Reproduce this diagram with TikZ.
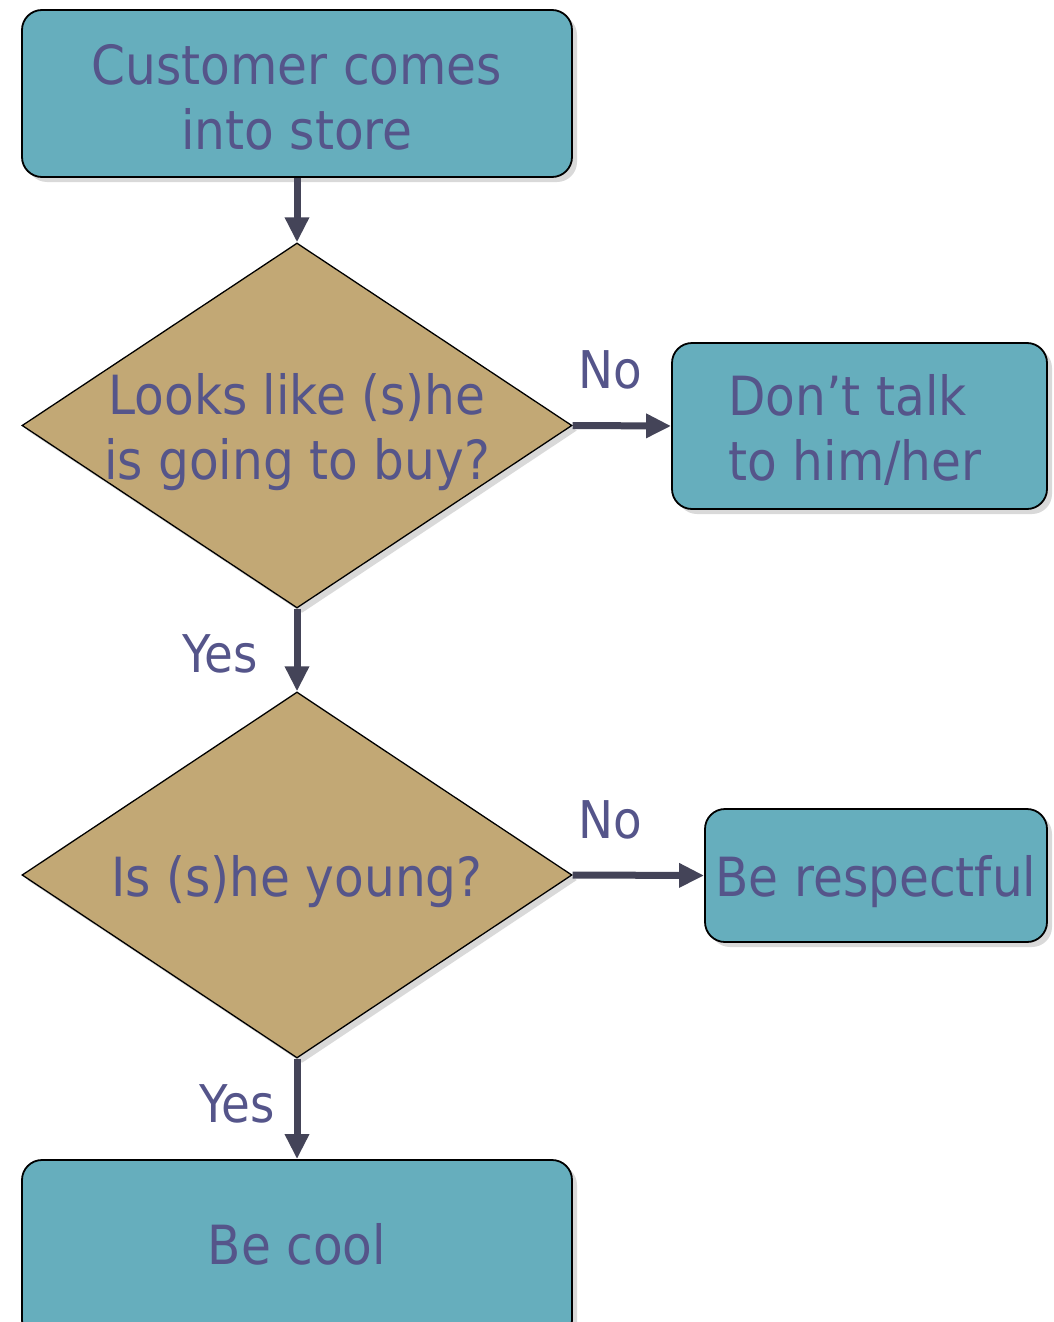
\documentclass[tikz,border=0pt]{standalone}
\usepackage{fontspec}
\setmainfont{DejaVu Sans}[FakeStretch=0.9]
\usetikzlibrary{shapes.geometric,shadows,arrows.meta}
\definecolor{boxfill}{HTML}{66AEBD}
\definecolor{decfill}{HTML}{C2A875}
\definecolor{txtcol}{HTML}{55558A}
\definecolor{arrcol}{HTML}{444458}
\tikzset{
  procbox/.style={rectangle, rounded corners=20pt, draw=black, line width=1.8pt, fill=boxfill,
    drop shadow={shadow xshift=5pt, shadow yshift=-5pt, fill=black!15, opacity=1},
    inner sep=0pt, align=center, text=txtcol, font=\fontsize{54}{65}\selectfont},
  decision/.style={diamond, draw=black, line width=1.3pt, fill=decfill, inner sep=0pt,
    drop shadow={shadow xshift=5pt, shadow yshift=-5pt, fill=black!15, opacity=1}},
  dectext/.style={align=center, text=txtcol, font=\fontsize{54}{65}\selectfont, inner sep=0pt},
  lbl/.style={text=txtcol, font=\fontsize{52}{60}\selectfont, inner sep=0pt},
  flow/.style={draw=arrcol, line width=7pt, -{Triangle[length=25pt,width=23pt]}}
}
\begin{document}
\begin{tikzpicture}[x=1pt,y=-1pt]
\useasboundingbox (0,0) rectangle (1053,1322);
\begin{scope}
\clip (0,0) rectangle (1053,1322);
\node[procbox, minimum width=550pt, minimum height=167pt] (start) at (297,93.5) {};
\node[dectext] (startt) at (297,97) {Customer comes\\into store};
\node[decision, minimum width=550pt, minimum height=365pt] (d1) at (297,425.5) {};
\node[dectext] (d1t) at (297,432) {Looks like (s)he\\is going to buy?};
\node[procbox, minimum width=375pt, minimum height=166pt] (notalk) at (859.5,426) {};
\node[dectext, align=left] (notalkt) at (855,430) {Don’t talk\\to him/her};
\node[decision, minimum width=550pt, minimum height=366pt] (d2) at (297,875) {};
\node[dectext] (d2t) at (297,882) {Is (s)he young?};
\node[procbox, minimum width=342pt, minimum height=133pt] (resp) at (876,875.5) {};
\node[dectext] (respt) at (876,882) {Be respectful};
\node[procbox, minimum width=550pt, minimum height=180pt] (cool) at (297,1250) {};
\node[dectext] (coolt) at (297,1244) {Be cool};

\draw[flow] (start.south) -- (d1.north);
\draw[flow] (d1.east) -- (notalk.west);
\draw[flow] (d1.south) -- (d2.north);
\draw[flow] (d2.east) -- (resp.west);
\draw[flow] (d2.south) -- (cool.north);

\node[lbl] (no1) at (610,370) {No};
\node[lbl] (yes1) at (220,654) {Yes};
\node[lbl] (no2) at (610,820) {No};
\node[lbl] (yes2) at (237,1104) {Yes};
\end{scope}
\end{tikzpicture}
\end{document}
